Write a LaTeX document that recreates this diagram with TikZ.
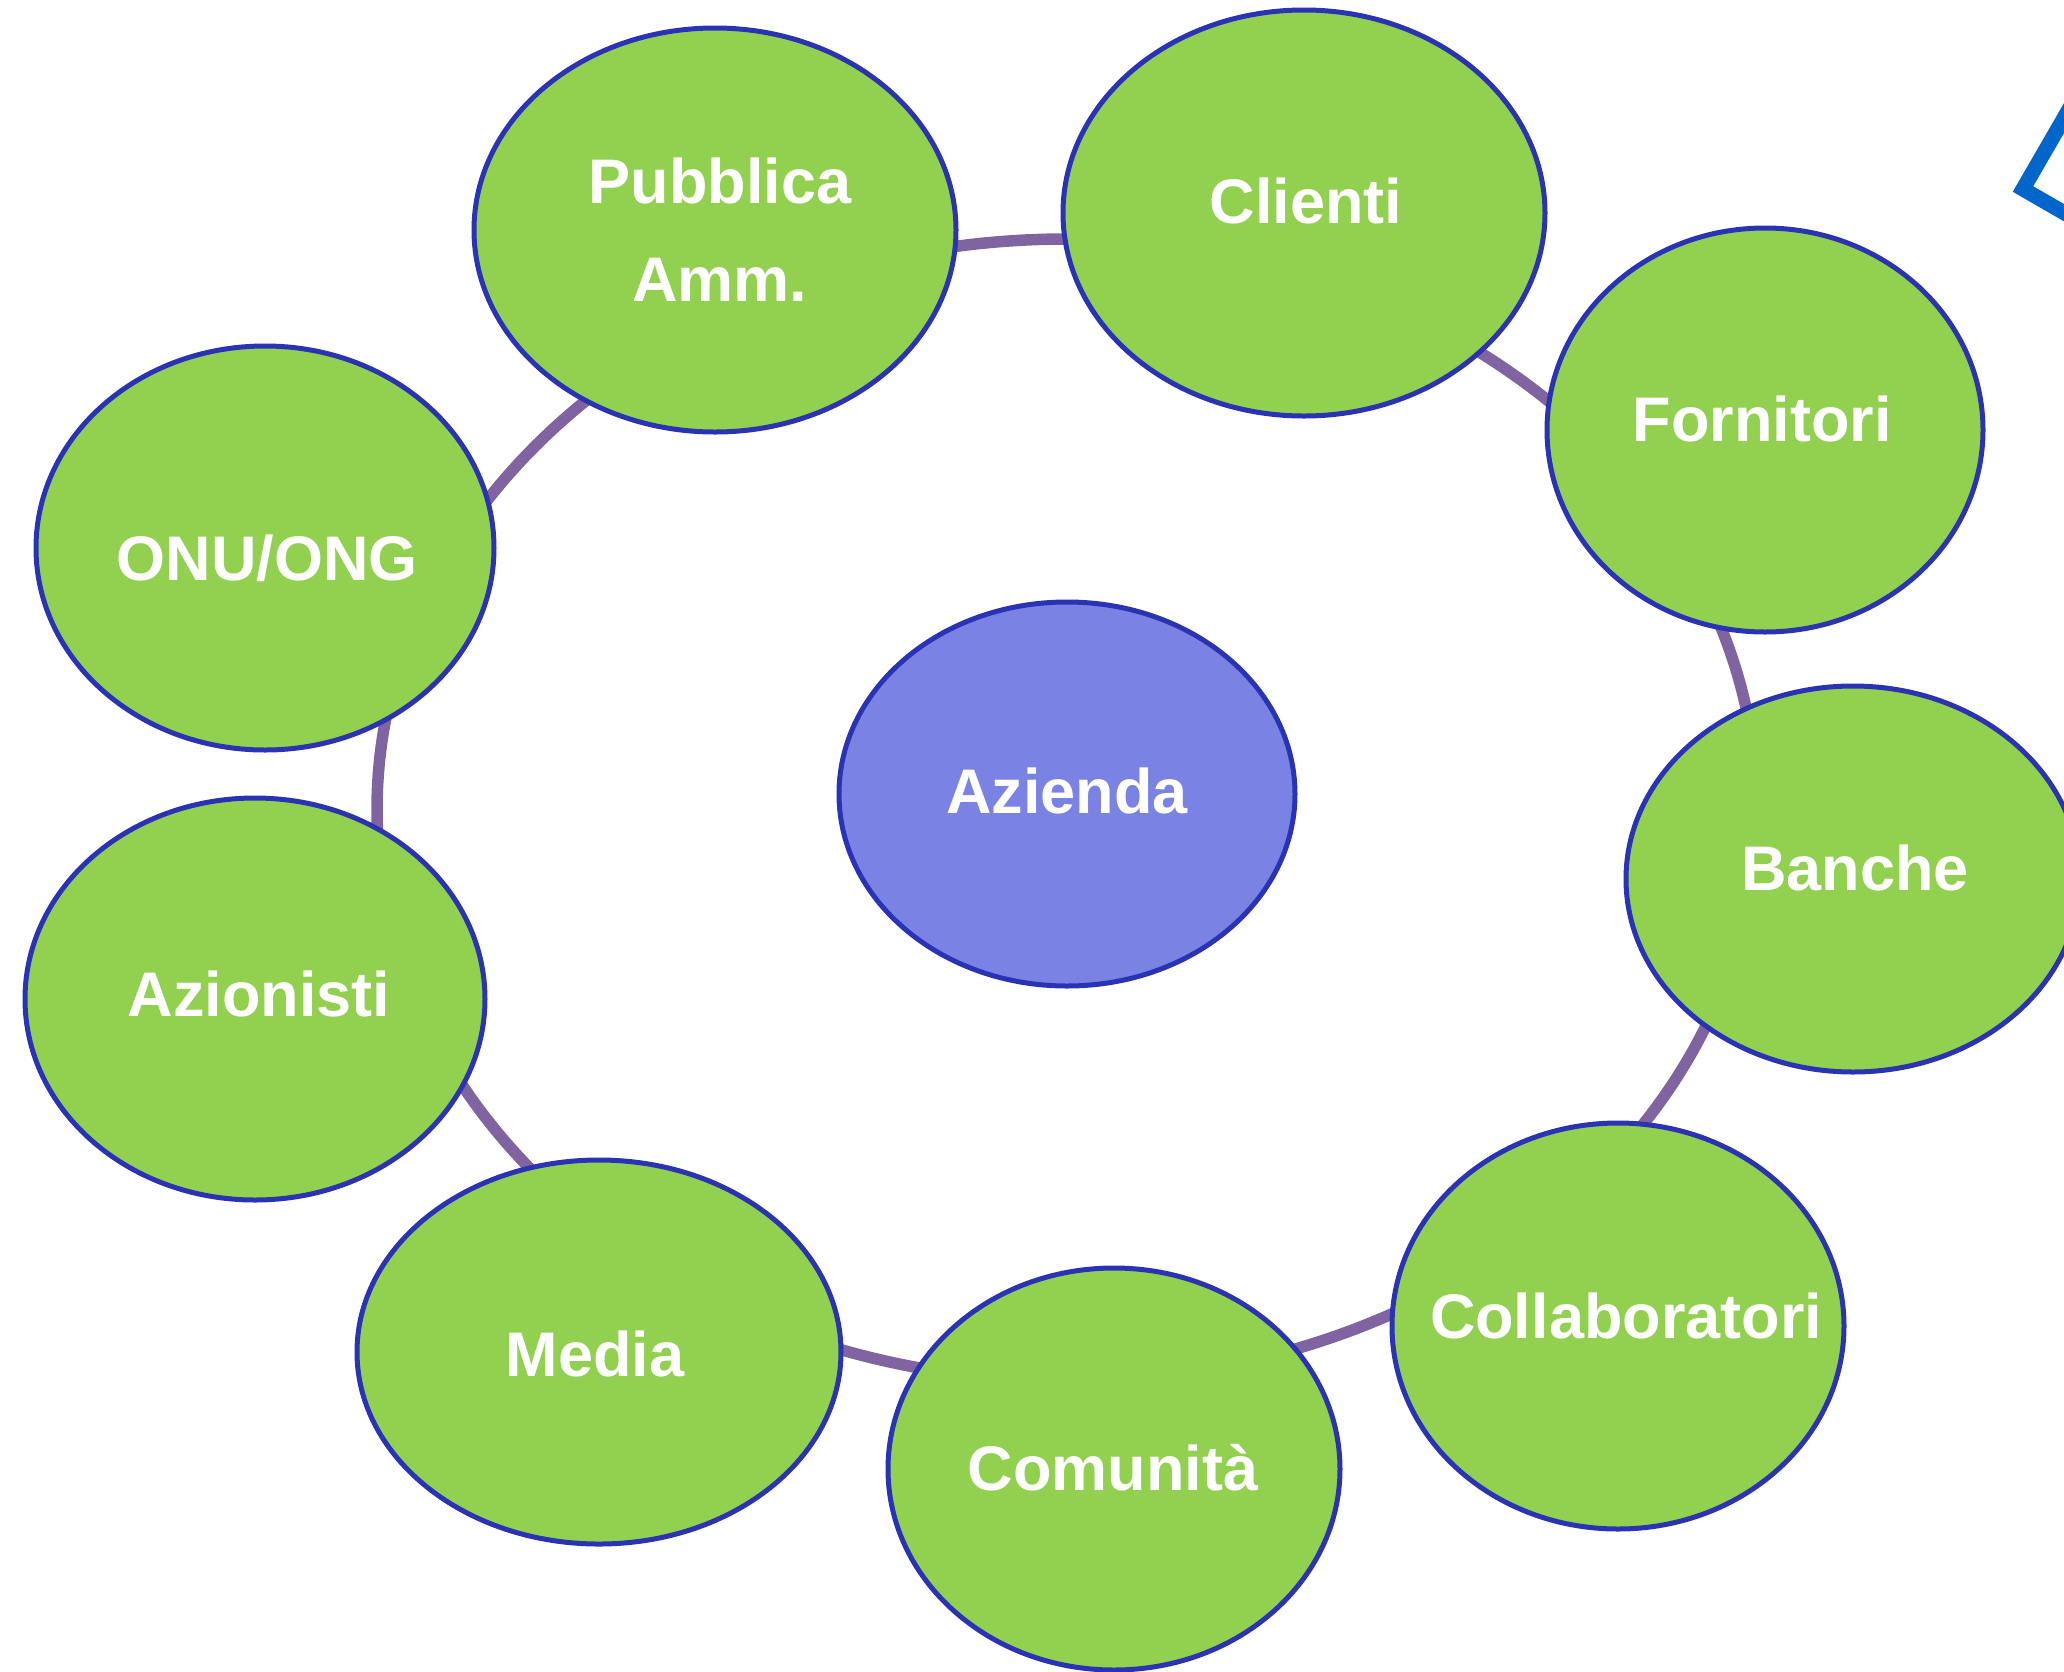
\documentclass[tikz,border=0pt]{standalone}
\usepackage{fontspec}
\setmainfont{Liberation Sans}
\usetikzlibrary{shapes.geometric}
\definecolor{leaf}{HTML}{92D050}
\definecolor{rim}{HTML}{2B33B5}
\definecolor{core}{HTML}{7A83E4}
\definecolor{ringcol}{HTML}{8064A2}
\definecolor{tricol}{HTML}{0066CC}
\begin{document}
\begin{tikzpicture}[x=1pt,y=-1pt,
  party/.style={ellipse, draw=rim, line width=5pt, fill=leaf, inner sep=0pt},
  hub/.style={party, fill=core},
  tag/.style={text=white, inner sep=0pt, align=center,
    font=\bfseries\fontsize{63}{97.5}\selectfont},
  ringstyle/.style={ellipse, draw=ringcol, line width=11.5pt, inner sep=0pt}
]
\useasboundingbox (0,0) rectangle (2064,1671);
\clip (0,0) rectangle (2064,1671);
% background ring
\node[ringstyle, minimum width=1380pt, minimum height=1142pt] (ring) at (1067,810) {};
% ellipses
\node[party, minimum width=482pt, minimum height=404pt] (pa) at (715,230) {};
\node[party, minimum width=482pt, minimum height=406pt] (cl) at (1304,213) {};
\node[party, minimum width=436pt, minimum height=404pt] (fo) at (1765,430) {};
\node[party, minimum width=454pt, minimum height=386pt] (ba) at (1853,879) {};
\node[party, minimum width=452pt, minimum height=406pt] (co) at (1618,1326) {};
\node[party, minimum width=452pt, minimum height=402pt] (cm) at (1114,1469) {};
\node[party, minimum width=484pt, minimum height=384pt] (me) at (599,1352) {};
\node[party, minimum width=460pt, minimum height=402pt] (az) at (255,999) {};
\node[party, minimum width=458pt, minimum height=404pt] (on) at (265,548) {};
\node[hub, minimum width=456pt, minimum height=384pt] (ad) at (1067,794) {};
% labels
\node[tag] (pa-t) at (720,229.6) {Pubblica\\Amm.};
\node[tag, anchor=base] (cl-t) at (1306,223) {Clienti};
\node[tag, anchor=base] (fo-t) at (1762,441) {Fornitori};
\node[tag, anchor=base] (ba-t) at (1855,890) {Banche};
\node[tag, anchor=base] (co-t) at (1626,1338) {Collaboratori};
\node[tag, anchor=base] (cm-t) at (1113,1490) {Comunità};
\node[tag, anchor=base] (me-t) at (595,1376) {Media};
\node[tag, anchor=base] (az-t) at (259,1016) {Azionisti};
\node[tag, anchor=base] (on-t) at (267,580) {ONU/ONG};
\node[tag, anchor=base] (ad-t) at (1067,813) {Azienda};
% partial blue triangle at top right
\coordinate (tv) at (2023,189);
\draw[tricol, line width=15pt, line join=miter] (2123,16) -- (tv) -- (2196,289);
\end{tikzpicture}
\end{document}
